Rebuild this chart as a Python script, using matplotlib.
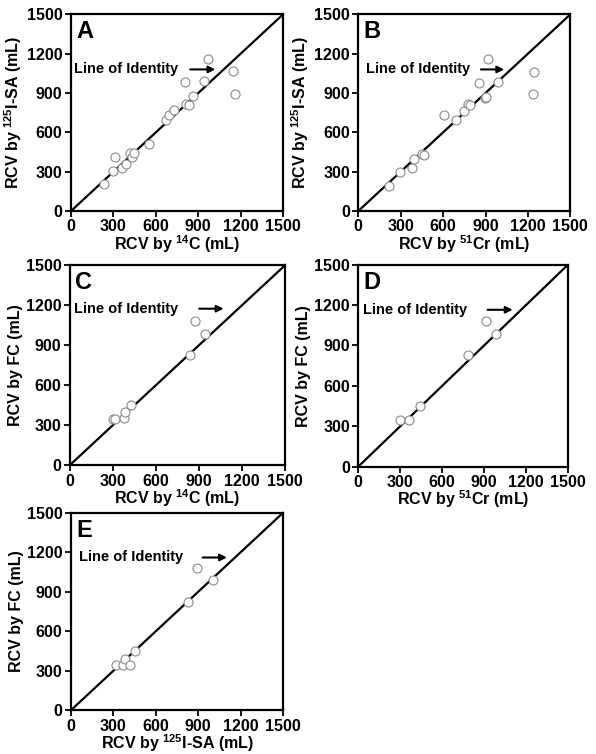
import matplotlib
matplotlib.use("Agg")
import matplotlib.pyplot as plt

plt.rcParams['font.family'] = ['Liberation Sans', 'DejaVu Sans']
plt.rcParams['font.weight'] = 'bold'
plt.rcParams['mathtext.fontset'] = 'custom'
plt.rcParams['mathtext.rm'] = 'Liberation Sans:bold'
plt.rcParams['mathtext.bf'] = 'Liberation Sans:bold'
plt.rcParams['mathtext.default'] = 'bf'

# Panel A: 14C (x) vs 125I-SA (y)
a_x = [233, 295, 311, 358, 389, 420, 435, 445, 553, 669, 692, 728, 810, 817, 833, 864, 942, 968, 1147, 1161]
a_y = [207, 307, 412, 330, 358, 442, 414, 440, 514, 692, 730, 768, 984, 819, 806, 875, 992, 1162, 1068, 895]
# Panel B: 51Cr (x) vs 125I-SA (y)
b_x = [221, 297, 380, 391, 451, 467, 604, 690, 745, 775, 790, 856, 895, 905, 915, 987, 1236, 1240]
b_y = [195, 300, 325, 400, 432, 430, 730, 692, 762, 818, 810, 977, 862, 870, 1157, 985, 891, 1063]
# Panel C: 14C (x) vs FC (y)
c_x = [300, 319, 375, 382, 424, 836, 871, 946]
c_y = [350, 350, 355, 400, 455, 825, 1080, 988]
# Panel D: 51Cr (x) vs FC (y)
d_x = [298, 362, 443, 786, 912, 983]
d_y = [347, 347, 451, 826, 1079, 987]
# Panel E: 125I-SA (x) vs FC (y)
e_x = [318, 370, 384, 421, 452, 829, 892, 1005]
e_y = [342, 342, 393, 342, 448, 823, 1077, 986]

ticks = [0, 300, 600, 900, 1200, 1500]
letters = ['A', 'B', 'C', 'D', 'E']
xlabels = [r"RCV by $^{14}$C (mL)", r"RCV by $^{51}$Cr (mL)", r"RCV by $^{14}$C (mL)",
           r"RCV by $^{51}$Cr (mL)", r"RCV by $^{125}$I-SA (mL)"]
ylabels = [r"RCV by $^{125}$I-SA (mL)", r"RCV by $^{125}$I-SA (mL)", "RCV by FC (mL)",
           "RCV by FC (mL)", "RCV by FC (mL)"]
# text position and arrow (x_start, x_end, y) in data units
label_pos = [(21, 1080, 824, 1041), (52, 1080, 848, 1052), (33, 1175, 883, 1092),
             (36, 1165, 905, 1124), (59, 1160, 911, 1123)]

fig = plt.figure(figsize=(5.96, 7.54), dpi=100)
rects = [
    [0.119, 0.720, 0.356, 0.261],
    [0.601, 0.720, 0.356, 0.261],
    [0.117, 0.383, 0.361, 0.265],
    [0.601, 0.381, 0.352, 0.268],
    [0.119, 0.0580, 0.356, 0.262],
]
data = [(a_x, a_y), (b_x, b_y), (c_x, c_y), (d_x, d_y), (e_x, e_y)]

for i, rect in enumerate(rects):
    ax = fig.add_axes(rect)
    xs, ys = data[i]
    ax.plot([0, 1500], [0, 1500], color='black', lw=1.6, zorder=1)
    ax.scatter(xs, ys, s=42, facecolors='white', edgecolors='#8a8a8a', linewidths=0.8, zorder=3)
    ax.set_xlim(0, 1500)
    ax.set_ylim(0, 1500)
    ax.set_xticks(ticks)
    ax.set_yticks(ticks)
    ax.tick_params(direction='out', length=4, width=1.3, labelsize=11.5, pad=2)
    for lab in ax.get_xticklabels() + ax.get_yticklabels():
        lab.set_fontweight('bold')
    for sp in ax.spines.values():
        sp.set_linewidth(1.6)
    ax.set_xlabel(xlabels[i], fontsize=11.5, fontweight='bold', labelpad=-1)
    ax.set_ylabel(ylabels[i], fontsize=11.5, fontweight='bold', labelpad=2)
    ax.text(0.025, 0.97, letters[i], transform=ax.transAxes, fontsize=17,
            fontweight='bold', va='top', ha='left')
    tx, ty, ax0, ax1 = label_pos[i]
    ax.text(tx, ty, "Line of Identity", fontsize=10.5, fontweight='bold', va='center', ha='left')
    ax.annotate("", xy=(ax1, ty), xytext=(ax0, ty),
                arrowprops=dict(arrowstyle='-|>', color='black', lw=1.5, mutation_scale=10))

fig.savefig("out.png", dpi=100)
